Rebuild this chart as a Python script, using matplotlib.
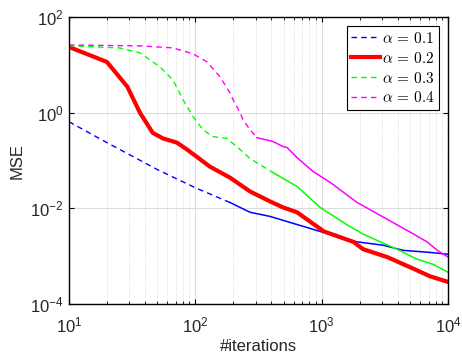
import numpy as np
import matplotlib.pyplot as plt

# === DATA ===
it_a1 = [10, 20, 50, 100, 188, 271, 390, 638, 970, 1320, 1900, 3060, 4400, 7200, 10000]
mse_a1 = [0.65, 0.237, 0.065, 0.027, 0.0133, 0.0083, 0.0068, 0.0046, 0.0033, 0.0026,
          0.0020, 0.0017, 0.00133, 0.0012, 0.0011]

it_a2 = [10, 20, 29, 36.5, 46, 55.5, 71.6, 86, 105, 130, 188, 271, 390, 494, 638, 1040,
         1400, 1780, 2130, 3300, 5000, 7200, 10000]
mse_a2 = [23.7, 11.5, 3.5, 1.0, 0.38, 0.29, 0.237, 0.17, 0.115, 0.075, 0.044, 0.0226,
          0.014, 0.0105, 0.0083, 0.0033, 0.0025, 0.002, 0.0014, 0.00096, 0.00059,
          0.00038, 0.00029]

it_a3 = [10, 25, 36.5, 52.5, 66.5, 80, 96, 115, 138, 178, 226, 271, 412, 638, 971,
         1570, 2130, 2900, 3950, 5650, 7600, 10000]
mse_a3 = [25, 22.6, 17.8, 9.1, 4.87, 1.87, 0.83, 0.44, 0.316, 0.29, 0.17, 0.11, 0.056,
          0.0287, 0.0105, 0.0046, 0.0029, 0.002, 0.0014, 0.00087, 0.00068, 0.00046]

it_a4 = [10, 36.5, 66.5, 96, 124, 157, 188, 199, 226, 239, 271, 308, 325, 412, 494,
         532, 638, 855, 1165, 1905, 3300, 5000, 6800, 8300, 10000]
mse_a4 = [26, 24.9, 22.6, 17, 11.5, 5.6, 2.6, 1.87, 1.0, 0.71, 0.44, 0.30, 0.29, 0.25,
          0.196, 0.187, 0.115, 0.059, 0.035, 0.0133, 0.0059, 0.0032, 0.002, 0.0013,
          0.00096]

labels = [r"$\alpha\,=\,0.1$", r"$\alpha\,=\,0.2$", r"$\alpha\,=\,0.3$", r"$\alpha\,=\,0.4$"]

# === FIGURE ===
plt.rcParams["font.family"] = ["Liberation Sans", "DejaVu Sans"]
plt.rcParams["mathtext.fontset"] = "cm"

fig = plt.figure(figsize=(4.62, 3.54), dpi=100)
ax = fig.add_axes([0.149, 0.141, 0.821, 0.811])


def split_plot(x, y, cut, color, label):
    # dashed at the start, looks solid once the curve gets noisy
    x = np.array(x)
    y = np.array(y)
    k = np.searchsorted(x, cut)
    ax.plot(x[:k + 1], y[:k + 1], "--", color=color, lw=1.0, label=label, dashes=(4, 3))
    ax.plot(x[k:], y[k:], "-", color=color, lw=1.1)


split_plot(it_a1, mse_a1, 188, "#0000ff", labels[0])
ax.plot(it_a2, mse_a2, "-", color="#ff0000", lw=3.0, label=labels[1],
        solid_joinstyle="round")
split_plot(it_a3, mse_a3, 300, "#00ff00", labels[2])
split_plot(it_a4, mse_a4, 300, "#ff00ff", labels[3])

ax.set_xscale("log")
ax.set_yscale("log")
ax.set_xlim(10, 1e4)
ax.set_ylim(1e-4, 1e2)
ax.set_yticks([1e-4, 1e-2, 1e0, 1e2])
ax.set_xticks([1e1, 1e2, 1e3, 1e4])

ax.grid(True, which="major", color="#dcdcdc", lw=0.8, ls="-")
ax.grid(True, which="minor", axis="x", color="#d0d0d0", lw=0.6, ls=":")
ax.tick_params(which="both", direction="in", top=True, right=True, labelsize=12,
               labelcolor="#262626")
ax.tick_params(axis="x", which="major", pad=8)
ax.tick_params(axis="y", which="major", pad=4)
ax.tick_params(which="minor", axis="y", length=0)
for s in ax.spines.values():
    s.set_linewidth(1.0)

ax.set_xlabel("#iterations", fontsize=12, color="#262626", labelpad=3)
ax.set_ylabel("MSE", fontsize=12, color="#262626")

leg = ax.legend(loc="upper right", fontsize=11, handlelength=1.9, handletextpad=0.1,
                borderpad=0.3, labelspacing=0.32, fancybox=False, framealpha=1,
                edgecolor="black", borderaxespad=0.6)
leg.get_frame().set_linewidth(0.8)

fig.savefig("out.png", dpi=100)
